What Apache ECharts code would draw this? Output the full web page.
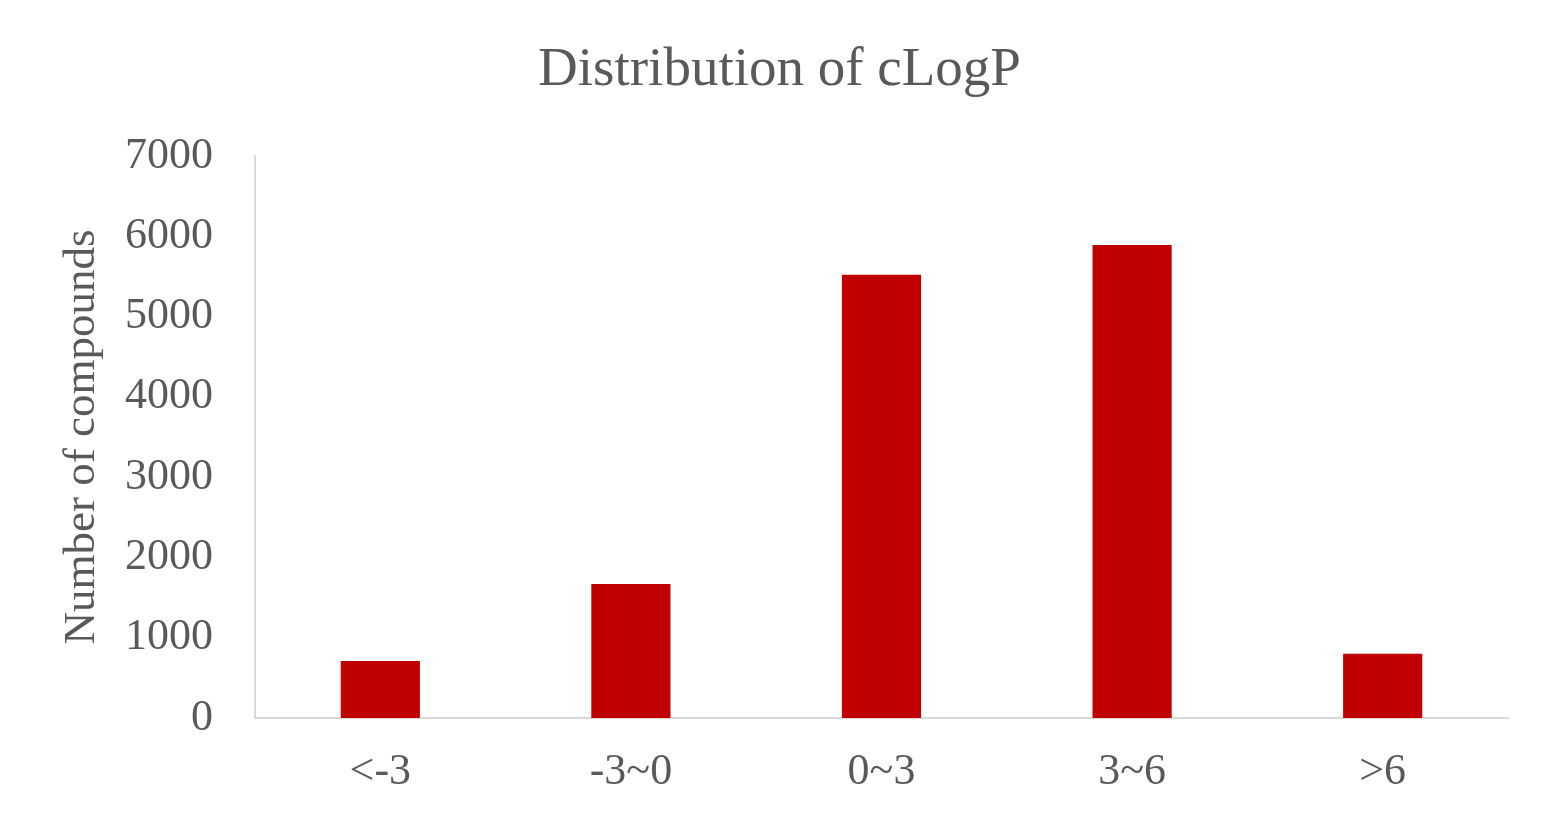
<!DOCTYPE html>
<html><head><meta charset="utf-8">
<script src="https://cdn.jsdelivr.net/npm/echarts@6/dist/echarts.min.js"></script>
<style>html,body{margin:0;padding:0;background:#fff}#c{width:1559px;height:827px}</style>
</head><body><div id="c"></div>
<script>
const categories = ['<-3', '-3~0', '0~3', '3~6', '>6'];
const counts = [710, 1670, 5520, 5890, 800];
const yTicks = [0, 1000, 2000, 3000, 4000, 5000, 6000, 7000];
const titleText = 'Distribution of cLogP';
const yName = 'Number of compounds';

const font = '"Liberation Serif", "Times New Roman", serif';
const chart = echarts.init(document.getElementById('c'), null, {renderer: 'canvas'});
chart.setOption({
  animation: false,
  title: {text: titleText, left: 'center', top: 38,
    textStyle: {fontFamily: font, fontSize: 55, fontWeight: 'normal', color: '#595959'}},
  grid: {left: 255, right: 51, top: 156, bottom: 109, containLabel: false},
  xAxis: {type: 'category', data: categories,
    axisLine: {lineStyle: {color: '#d9d9d9', width: 2}},
    axisTick: {show: false},
    axisLabel: {fontFamily: font, fontSize: 44, color: '#595959', margin: 32}},
  yAxis: {type: 'value', min: yTicks[0], max: yTicks[yTicks.length-1], interval: 1000,
    name: yName, nameLocation: 'middle', nameGap: 150, nameRotate: 90,
    nameTextStyle: {fontFamily: font, fontSize: 45, color: '#595959'},
    axisLine: {show: true, lineStyle: {color: '#d9d9d9', width: 2}},
    axisTick: {show: false},
    splitLine: {show: false},
    axisLabel: {fontFamily: font, fontSize: 44, color: '#595959', margin: 42,
      formatter: v => String(v)}},
  series: [{type: 'bar', data: counts, barWidth: '31.6%',
    itemStyle: {color: '#c00000'}}]
});
</script></body></html>
